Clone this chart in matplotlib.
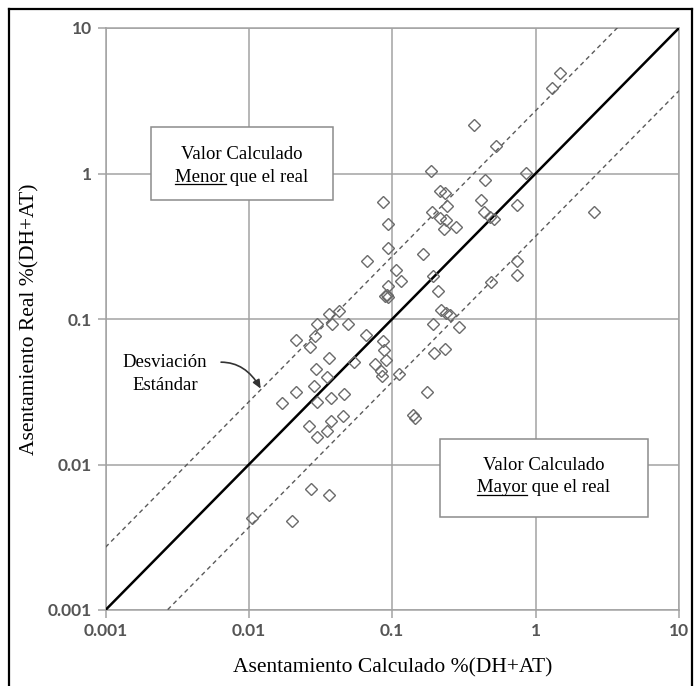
import matplotlib
matplotlib.use("Agg")
import matplotlib.pyplot as plt
from matplotlib.lines import Line2D
from matplotlib.patches import Rectangle
from matplotlib.ticker import NullLocator
import numpy as np

# ---- data ----
calc = [1.48, 1.31, 0.371, 0.526, 0.187, 0.853, 0.444, 0.214, 0.233, 0.0867,
        0.416, 0.241, 0.740, 2.54, 0.188, 0.438, 0.480, 0.512, 0.093, 0.215,
        0.236, 0.280, 0.231, 0.74, 0.74, 0.49, 0.219, 0.237, 0.254, 0.294,
        0.191, 0.234, 0.196, 0.112, 0.176, 0.139, 0.145, 0.067, 0.094, 0.165,
        0.106, 0.116, 0.191, 0.094, 0.089, 0.092, 0.094, 0.209, 0.0427, 0.0363,
        0.0301, 0.0383, 0.0495, 0.0213, 0.0290, 0.0267, 0.0655, 0.036, 0.0543, 0.0294,
        0.0348, 0.0213, 0.0283, 0.0171, 0.0301, 0.0373, 0.0463, 0.0856, 0.088, 0.090,
        0.076, 0.083, 0.0848, 0.0264, 0.0373, 0.045, 0.0301, 0.0348, 0.0271, 0.036,
        0.0105, 0.0201]
real = [4.93, 3.84, 2.14, 1.54, 1.04, 1.01, 0.90, 0.758, 0.736, 0.632,
        0.655, 0.594, 0.607, 0.547, 0.547, 0.547, 0.503, 0.490, 0.451, 0.497,
        0.476, 0.432, 0.414, 0.25, 0.20, 0.18, 0.116, 0.110, 0.106, 0.088,
        0.092, 0.0624, 0.0586, 0.0422, 0.0314, 0.022, 0.0209, 0.25, 0.31, 0.278,
        0.216, 0.182, 0.197, 0.168, 0.143, 0.146, 0.141, 0.155, 0.114, 0.109,
        0.093, 0.092, 0.093, 0.0715, 0.077, 0.064, 0.078, 0.054, 0.0508, 0.045,
        0.040, 0.0316, 0.0349, 0.0265, 0.0268, 0.0287, 0.0303, 0.0703, 0.0617, 0.052,
        0.0487, 0.0437, 0.0408, 0.0183, 0.0198, 0.0217, 0.0155, 0.0169, 0.0068, 0.0062,
        0.0043, 0.0041]
line_x = [0.001, 10]
sd_factor = 2.7
ticks = [0.001, 0.01, 0.1, 1, 10]
tick_labels = ["0.001", "0.01", "0.1", "1", "10"]
xlabel = "Asentamiento Calculado %(DH+AT)"
ylabel = "Asentamiento Real %(DH+AT)"

W, H = 694, 686
fig = plt.figure(figsize=(W / 100, H / 100), dpi=100)
fig.patch.set_facecolor("white")

L, R, T, B = 105.5, 679, 28, 610
ax = fig.add_axes([L / W, 1 - B / H, (R - L) / W, (B - T) / H])
ax.set_xscale("log")
ax.set_yscale("log")
ax.set_xlim(ticks[0], ticks[-1])
ax.set_ylim(ticks[0], ticks[-1])
ax.set_xticks(ticks)
ax.set_xticklabels(tick_labels)
ax.set_yticks(ticks)
ax.set_yticklabels(tick_labels)
ax.xaxis.set_minor_locator(NullLocator())
ax.yaxis.set_minor_locator(NullLocator())

gcol = "#a3a3a3"
ax.grid(True, which="major", color=gcol, lw=1.1, zorder=0)
ax.set_axisbelow(True)
for s in ax.spines.values():
    s.set_color(gcol)
    s.set_linewidth(1.1)
ax.tick_params(which="major", length=6, width=1.1, color=gcol,
               labelcolor="#555555", labelsize=12.5, pad=3.5)
for lab in ax.get_xticklabels() + ax.get_yticklabels():
    lab.set_fontfamily("Lato")
    lab.set_fontweight("bold")

serif = "Liberation Serif"
ax.set_xlabel(xlabel, fontfamily=serif, fontsize=15.5, va="center")
ax.xaxis.set_label_coords(0.5, -(668 - B) / (B - T))
ax.set_ylabel(ylabel, fontfamily=serif, fontsize=15.5, va="center")
ax.yaxis.set_label_coords(-(L - 30) / (R - L), 0.5)

xs = np.array(line_x)
ax.plot(xs, xs, color="black", lw=1.8, zorder=3)
ax.plot(xs, xs * sd_factor, color="#5a5a5a", lw=1.0, dashes=(3.2, 2.6), zorder=3)
ax.plot(xs, xs / sd_factor, color="#5a5a5a", lw=1.0, dashes=(3.2, 2.6), zorder=3)

ax.plot(calc, real, linestyle="none", marker="D", ms=6, mfc="none",
        mec="#6a6a6a", mew=1.0, zorder=4)

# annotation "Desviación Estándar"
ax.text(0.0026, 0.0505, "Desviación", fontfamily=serif, fontsize=13.5,
        ha="center", va="center", zorder=5)
ax.text(0.0026, 0.0351, "Estándar", fontfamily=serif, fontsize=13.5,
        ha="center", va="center", zorder=5)
ax.annotate("", xy=(0.0121, 0.0332), xytext=(0.0064, 0.0505),
            arrowprops=dict(arrowstyle="-|>,head_length=0.5,head_width=0.22",
                            color="#333333", lw=1.2,
                            connectionstyle="angle3,angleA=0,angleB=-60",
                            shrinkA=0, shrinkB=0), zorder=5)


def fx(x):
    return x / W


def fy(y):
    return 1 - y / H


def box(x0, y0, x1, y1):
    r = Rectangle((fx(x0), fy(y1)), fx(x1) - fx(x0), fy(y0) - fy(y1),
                  transform=fig.transFigure, facecolor="white",
                  edgecolor="#8c8c8c", lw=1.1, zorder=5)
    fig.patches.append(r)


box(150.5, 127, 333, 200)
box(440, 438.5, 648, 517)

fig.canvas.draw()
renderer = fig.canvas.get_renderer()


def two_lines(cx, base1, base2, word, rest):
    fig.text(fx(cx), fy(base1), "Valor Calculado", fontfamily=serif,
             fontsize=13.5, ha="center", va="baseline", zorder=6)
    full = fig.text(fx(cx), fy(base2), word + rest, fontfamily=serif,
                    fontsize=13.5, ha="center", va="baseline", zorder=6)
    bb = full.get_window_extent(renderer)
    tmp = fig.text(0, 0, word, fontfamily=serif, fontsize=13.5, alpha=0)
    wb = tmp.get_window_extent(renderer)
    tmp.remove()
    x0 = bb.x0
    x1 = bb.x0 + wb.width
    yu = fy(base2 + 2.2)
    fig.lines.append(Line2D([x0 / W, x1 / W], [yu, yu], transform=fig.transFigure,
                            color="black", lw=0.9, zorder=6))


two_lines(242, 159, 181.5, "Menor", " que el real")
two_lines(544, 470.5, 492.5, "Mayor", " que el real")

# outer frame (left, top, right)
for xx, yy in [([9, 9], [9, 700]), ([9, 692], [9, 9]), ([692, 692], [9, 700])]:
    fig.lines.append(Line2D([fx(v) for v in xx], [fy(v) for v in yy],
                            transform=fig.transFigure, color="black", lw=1.6,
                            zorder=7))

fig.savefig("out.png", dpi=100)
